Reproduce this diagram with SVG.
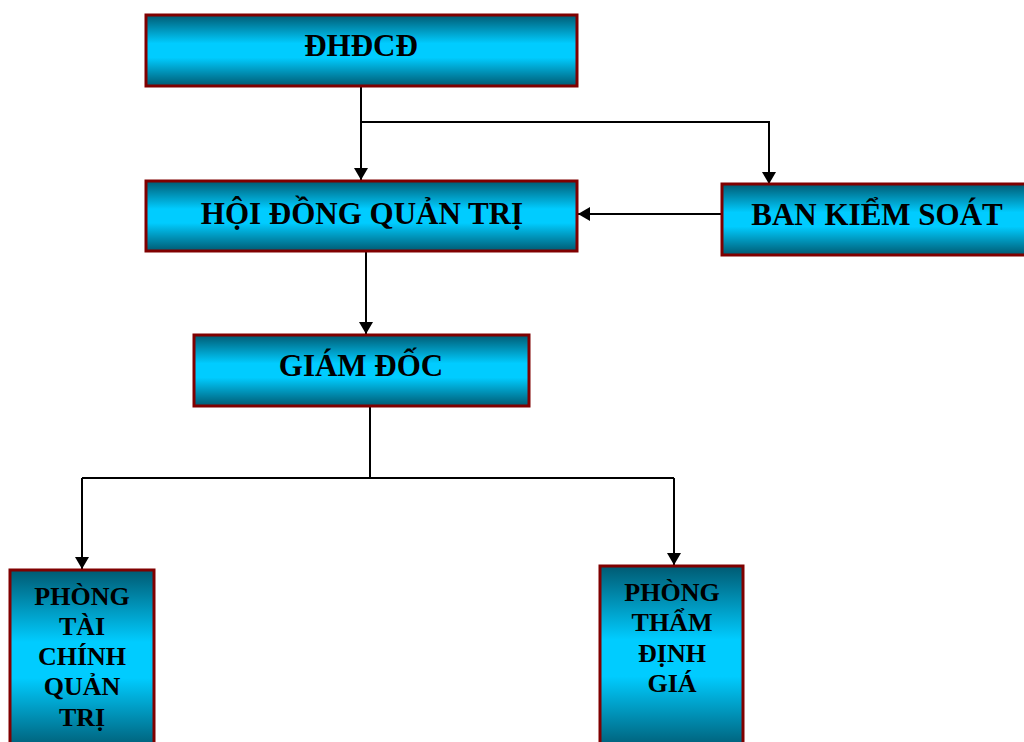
<svg xmlns="http://www.w3.org/2000/svg" width="1024" height="742" viewBox="0 0 1024 742">
<defs>
<linearGradient id="g" x1="0" y1="0" x2="0" y2="1">
<stop offset="0" stop-color="#005a72"/>
<stop offset="0.4" stop-color="#00ccff"/>
<stop offset="0.6" stop-color="#00ccff"/>
<stop offset="1" stop-color="#005a72"/>
</linearGradient>
<marker id="ah" markerWidth="12" markerHeight="14" refX="12" refY="7" orient="auto" markerUnits="userSpaceOnUse">
<path d="M0,0 L12,7 L0,14 Z" fill="#000"/>
</marker>
<style>
.box{fill:url(#g);stroke:#800000;stroke-width:3}
.t{font-family:"Liberation Serif","Times New Roman",serif;font-weight:bold;font-size:31px;fill:#000;text-anchor:middle}
.s{font-size:26px}
.c{fill:none;stroke:#000;stroke-width:2}
</style>
</defs>
<g id="connectors">
<path class="c" d="M361,86 V180" marker-end="url(#ah)"/>
<path class="c" d="M361,122 H769 V184" marker-end="url(#ah)"/>
<path class="c" d="M721,214 H578" marker-end="url(#ah)"/>
<path class="c" d="M366,251 V334" marker-end="url(#ah)"/>
<path class="c" d="M370,407 V478"/>
<path class="c" d="M82,478 H674"/>
<path class="c" d="M82,478 V569" marker-end="url(#ah)"/>
<path class="c" d="M674,478 V565" marker-end="url(#ah)"/>
</g>
<g id="dhdcd">
<rect class="box" x="146" y="15" width="431" height="71"/>
<text class="t" x="361" y="56">ĐHĐCĐ</text>
</g>
<g id="hdqt">
<rect class="box" x="146" y="181" width="431" height="70"/>
<text class="t" x="362" y="224">HỘI ĐỒNG QUẢN TRỊ</text>
</g>
<g id="bks">
<rect class="box" x="722" y="184" width="306" height="71"/>
<text class="t" x="877" y="225">BAN KIỂM SOÁT</text>
</g>
<g id="giamdoc">
<rect class="box" x="194" y="335" width="335" height="71"/>
<text class="t" x="361" y="376">GIÁM ĐỐC</text>
</g>
<g id="ptc">
<rect class="box" x="10" y="570" width="144" height="180"/>
<text class="t s" x="82" y="605">PHÒNG</text>
<text class="t s" x="82" y="635">TÀI</text>
<text class="t s" x="82" y="665">CHÍNH</text>
<text class="t s" x="82" y="695">QUẢN</text>
<text class="t s" x="82" y="726">TRỊ</text>
</g>
<g id="ptd">
<rect class="box" x="600" y="566" width="143" height="184"/>
<text class="t s" x="672" y="601">PHÒNG</text>
<text class="t s" x="672" y="631">THẨM</text>
<text class="t s" x="672" y="662">ĐỊNH</text>
<text class="t s" x="672" y="692">GIÁ</text>
</g>
</svg>
